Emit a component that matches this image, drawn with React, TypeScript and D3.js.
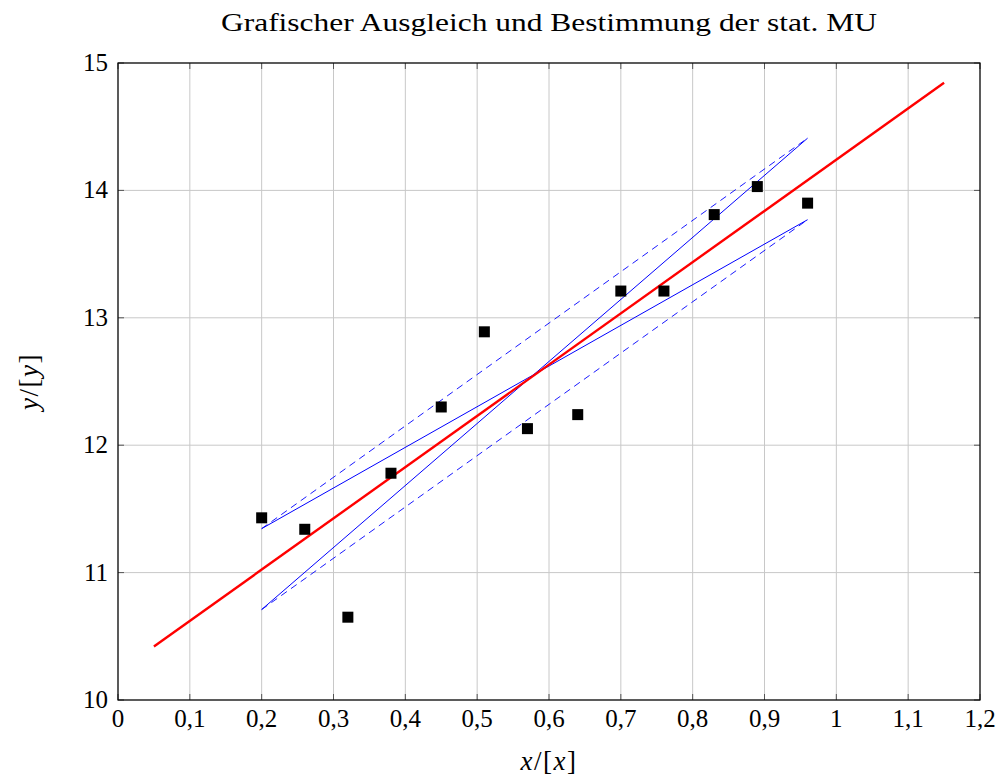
import React from "react";
import * as d3 from "d3";

// measured points
const xValues = [0.2, 0.26, 0.32, 0.38, 0.45, 0.51, 0.57, 0.64, 0.7, 0.76, 0.83, 0.89, 0.96];
const yValues = [11.43, 11.34, 10.65, 11.78, 12.3, 12.89, 12.13, 12.24, 13.21, 13.21, 13.81, 14.03, 13.9];

// fitted line (red) and the extreme lines (blue)
const fitLine = [
  { x: 0.05, y: 10.42 },
  { x: 1.15, y: 14.845 },
];
const steepLine = [
  { x: 0.2, y: 10.71 },
  { x: 0.96, y: 14.41 },
];
const flatLine = [
  { x: 0.2, y: 11.345 },
  { x: 0.96, y: 13.77 },
];
const upperDashed = [
  { x: 0.2, y: 11.345 },
  { x: 0.96, y: 14.41 },
];
const lowerDashed = [
  { x: 0.2, y: 10.71 },
  { x: 0.96, y: 13.77 },
];

const xTicks = [0, 0.1, 0.2, 0.3, 0.4, 0.5, 0.6, 0.7, 0.8, 0.9, 1, 1.1, 1.2];
const yTicks = [10, 11, 12, 13, 14, 15];

const W = 1000;
const H = 778;
const margin = { top: 63, right: 20, bottom: 78, left: 118 };
const FONT = "'Liberation Serif', 'DejaVu Serif', serif";

export default function App() {
  const x = d3.scaleLinear().domain([0, 1.2]).range([margin.left, W - margin.right]);
  const y = d3.scaleLinear().domain([10, 15]).range([H - margin.bottom, margin.top]);

  const line = d3
    .line<{ x: number; y: number }>()
    .x((d) => x(d.x))
    .y((d) => y(d.y));

  const fmt = (v: number) => String(v).replace(".", ",");
  const left = x(0);
  const right = x(1.2);
  const top = y(15);
  const bottom = y(10);
  const sq = 11;

  return (
    <svg
      width={W}
      height={H}
      style={{ position: "absolute", left: 0, top: 0, background: "#fff" }}
      fontFamily={FONT}
    >
      {/* grid */}
      {xTicks.map((t) => (
        <line key={"gx" + t} x1={x(t)} x2={x(t)} y1={top} y2={bottom} stroke="#c8c8c8" strokeWidth={1} />
      ))}
      {yTicks.map((t) => (
        <line key={"gy" + t} x1={left} x2={right} y1={y(t)} y2={y(t)} stroke="#c8c8c8" strokeWidth={1} />
      ))}
      {/* ticks */}
      {xTicks.map((t) => (
        <g key={"tx" + t} stroke="#555" strokeWidth={1}>
          <line x1={x(t)} x2={x(t)} y1={bottom} y2={bottom - 6} />
          <line x1={x(t)} x2={x(t)} y1={top} y2={top + 6} />
        </g>
      ))}
      {yTicks.map((t) => (
        <g key={"ty" + t} stroke="#555" strokeWidth={1}>
          <line x1={left} x2={left + 6} y1={y(t)} y2={y(t)} />
          <line x1={right} x2={right - 6} y1={y(t)} y2={y(t)} />
        </g>
      ))}

      {/* lines */}
      <path d={line(upperDashed) ?? ""} fill="none" stroke="#0000ff" strokeWidth={0.9} strokeDasharray="7,5" />
      <path d={line(lowerDashed) ?? ""} fill="none" stroke="#0000ff" strokeWidth={0.9} strokeDasharray="7,5" />
      <path d={line(steepLine) ?? ""} fill="none" stroke="#0000ff" strokeWidth={1} />
      <path d={line(flatLine) ?? ""} fill="none" stroke="#0000ff" strokeWidth={1} />
      <path d={line(fitLine) ?? ""} fill="none" stroke="#ff0000" strokeWidth={2.4} />

      {/* points */}
      {xValues.map((v, i) => (
        <rect key={"p" + i} x={x(v) - sq / 2} y={y(yValues[i]) - sq / 2} width={sq} height={sq} fill="#000" />
      ))}

      {/* frame */}
      <rect x={left} y={top} width={right - left} height={bottom - top} fill="none" stroke="#000" strokeWidth={1.2} />

      {/* tick labels */}
      {xTicks.map((t) => (
        <text key={"lx" + t} x={x(t)} y={bottom + 27} textAnchor="middle" fontSize={25} fill="#000">
          {fmt(t)}
        </text>
      ))}
      {yTicks.map((t) => (
        <text key={"ly" + t} x={left - 10} y={y(t) + 8} textAnchor="end" fontSize={25} fill="#000">
          {t}
        </text>
      ))}

      {/* titles */}
      <text
        x={(left + right) / 2}
        y={31}
        textAnchor="middle"
        fontSize={25}
        fill="#000"
        textLength={656}
        lengthAdjust="spacingAndGlyphs"
      >
        Grafischer Ausgleich und Bestimmung der stat. MU
      </text>
      <text x={(left + right) / 2} y={770} textAnchor="middle" fontSize={27} fill="#000" letterSpacing={1.5}>
        <tspan fontStyle="italic">x</tspan>/[<tspan fontStyle="italic">x</tspan>]
      </text>
      <text
        transform={`translate(38, ${(top + bottom) / 2}) rotate(-90)`}
        textAnchor="middle"
        fontSize={27}
        fill="#000"
        letterSpacing={1.5}
      >
        <tspan fontStyle="italic">y</tspan>/[<tspan fontStyle="italic">y</tspan>]
      </text>
    </svg>
  );
}
